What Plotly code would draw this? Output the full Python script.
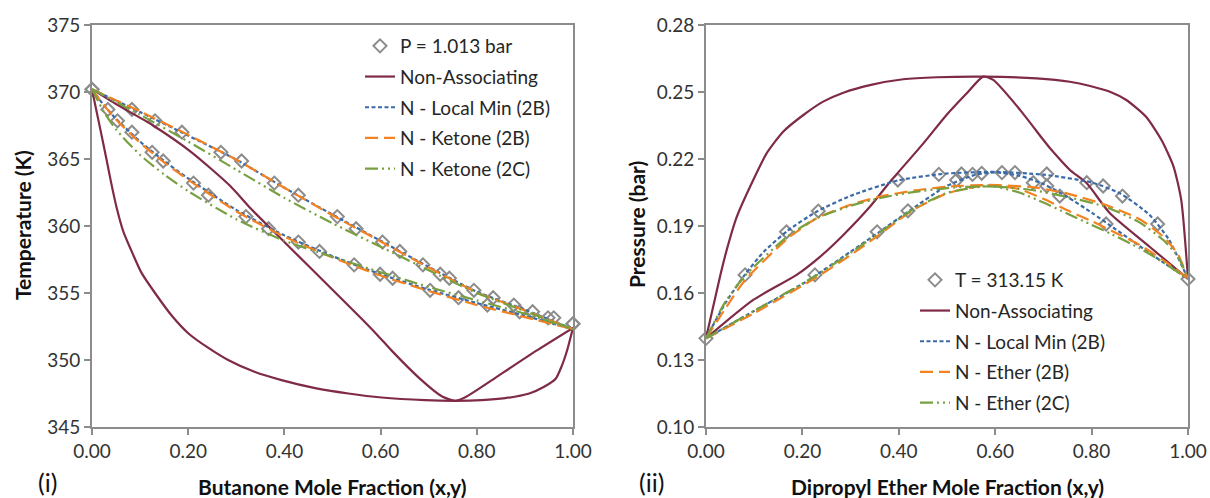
import plotly.graph_objects as go

# ---------------- (i) Butanone system, P = 1.013 bar ----------------
exp_T_i = [370.2, 368.7, 367.85, 367.0, 365.5, 364.85, 363.2, 362.3, 360.7, 359.8, 358.8,
           358.1, 357.1, 356.4, 356.1, 355.2, 354.65, 354.1, 353.6, 353.15, 352.7]
exp_x_i = [0.0, 0.033, 0.053, 0.083, 0.125, 0.148, 0.211, 0.242, 0.320, 0.367, 0.429,
           0.473, 0.545, 0.599, 0.625, 0.703, 0.762, 0.822, 0.889, 0.948, 1.0]
exp_y_i = [0.0, 0.083, 0.131, 0.187, 0.268, 0.311, 0.379, 0.429, 0.510, 0.549, 0.604,
           0.640, 0.688, 0.724, 0.743, 0.794, 0.834, 0.877, 0.916, 0.960, 1.0]

na_bub_x_i = [0, 0.008, 0.018, 0.030, 0.040, 0.051, 0.065, 0.085, 0.103, 0.131, 0.166, 0.200,
              0.242, 0.283, 0.339, 0.394, 0.464, 0.533, 0.602, 0.692, 0.755, 0.81, 0.859,
              0.909, 0.940, 0.964, 0.976, 0.988, 1.0]
na_bub_T_i = [370.2, 368.8, 367.1, 365.0, 363.2, 361.4, 359.6, 357.9, 356.5, 355.0, 353.3, 352.0,
              350.9, 350.0, 349.1, 348.5, 347.9, 347.5, 347.2, 347.0, 346.95, 347.0, 347.15,
              347.5, 348.0, 348.6, 349.5, 350.75, 352.4]
na_dew_x_i = [0, 0.05, 0.127, 0.207, 0.287, 0.33, 0.40, 0.49, 0.56, 0.595, 0.623, 0.685,
              0.727, 0.755, 0.775, 0.80, 0.844, 0.924, 1.0]
na_dew_T_i = [370.2, 369.1, 367.5, 365.5, 363.0, 361.3, 358.8, 355.6, 353.1, 351.8, 350.7, 348.5,
              347.3, 346.95, 347.2, 347.75, 348.8, 350.7, 352.4]

mod_bub_x_i = [0, 0.025, 0.05, 0.1, 0.15, 0.2, 0.3, 0.4, 0.5, 0.6, 0.7, 0.8, 0.9, 1.0]
lm_bub_T_i = [370.2, 369.0, 368.0, 366.3, 364.85, 363.55, 361.2, 359.3, 357.75, 356.4, 355.25, 354.25, 353.3, 352.3]
k2b_bub_T_i = [370.2, 369.0, 367.95, 366.2, 364.75, 363.45, 361.1, 359.2, 357.65, 356.3, 355.15, 354.1, 353.2, 352.3]
k2c_bub_T_i = [370.2, 368.5, 367.2, 365.3, 363.85, 362.6, 360.5, 358.9, 357.7, 356.55, 355.45, 354.45, 353.45, 352.3]

mod_dew_x_i = [0, 0.1, 0.2, 0.3, 0.4, 0.5, 0.6, 0.7, 0.8, 0.9, 1.0]
lm_dew_T_i = [370.2, 368.5, 366.75, 364.95, 362.85, 360.85, 358.9, 356.95, 355.1, 353.75, 352.3]
k2b_dew_T_i = [370.2, 368.55, 366.8, 364.95, 362.85, 360.8, 358.85, 356.9, 355.05, 353.7, 352.3]
k2c_dew_T_i = [370.2, 368.3, 366.3, 364.2, 362.1, 360.2, 358.45, 356.7, 355.0, 353.65, 352.3]

# ---------------- (ii) Dipropyl ether system, T = 313.15 K ----------------
exp_x_ii = [0.0, 0.081, 0.167, 0.233, 0.398, 0.483, 0.553, 0.614, 0.707, 0.790, 0.824, 0.864, 0.937, 1.0]
exp_Px_ii = [0.1397, 0.1681, 0.1874, 0.1967, 0.2106, 0.2131, 0.2131, 0.2139, 0.2133, 0.2094, 0.2079,
             0.2034, 0.1909, 0.1663]
exp_y_ii = [0.226, 0.355, 0.419, 0.520, 0.530, 0.572, 0.641, 0.679, 0.707, 0.734, 0.830]
exp_Py_ii = [0.1681, 0.1874, 0.1968, 0.2106, 0.2133, 0.2136, 0.2139, 0.2094, 0.2079, 0.2034, 0.1909]

na_bub_x_ii = [0, 0.029, 0.043, 0.064, 0.098, 0.126, 0.160, 0.202, 0.243, 0.285, 0.340, 0.409,
               0.479, 0.575, 0.686, 0.755, 0.797, 0.838, 0.872, 0.913, 0.945, 0.970, 0.986, 1.0]
na_bub_P_ii = [0.1397, 0.1673, 0.1793, 0.1942, 0.2106, 0.2226, 0.2322, 0.2397, 0.2457, 0.2497, 0.2531,
               0.2557, 0.2566, 0.2569, 0.2561, 0.2546, 0.2527, 0.2501, 0.2464, 0.2389, 0.2285,
               0.2166, 0.2016, 0.1663]
na_dew_x_ii = [0, 0.098, 0.188, 0.237, 0.285, 0.340, 0.382, 0.451, 0.499, 0.541, 0.575, 0.596,
               0.652, 0.700, 0.717, 0.755, 0.790, 0.838, 0.921, 1.0]
na_dew_P_ii = [0.1397, 0.1569, 0.1681, 0.1763, 0.1860, 0.1986, 0.2098, 0.2270, 0.2397, 0.2494, 0.2569,
               0.2554, 0.2419, 0.2285, 0.2240, 0.2151, 0.2091, 0.1957, 0.1806, 0.1663]

lm_bub_x_ii = [0, 0.04, 0.08, 0.12, 0.17, 0.23, 0.3, 0.4, 0.5, 0.6, 0.7, 0.8, 0.86, 0.92, 0.96, 1.0]
lm_bub_P_ii = [0.1397, 0.1554, 0.1680, 0.1785, 0.1880, 0.1965, 0.2035, 0.2105, 0.2135, 0.2142, 0.2130,
               0.2095, 0.2045, 0.1950, 0.1840, 0.1663]
lm_dew_x_ii = [0, 0.1, 0.2, 0.3, 0.36, 0.42, 0.5, 0.56, 0.6, 0.65, 0.7, 0.75, 0.8, 0.85, 0.9, 0.95, 1.0]
lm_dew_P_ii = [0.1397, 0.1520, 0.1640, 0.1785, 0.1874, 0.1965, 0.2080, 0.2130, 0.2140, 0.2125, 0.2088,
               0.2030, 0.1960, 0.1885, 0.1810, 0.1735, 0.1663]

e_bub_x_ii = [0, 0.04, 0.08, 0.17, 0.23, 0.3, 0.36, 0.43, 0.5, 0.59, 0.68, 0.75, 0.83, 0.9, 0.95, 0.98, 1.0]
e2b_bub_P_ii = [0.1397, 0.1530, 0.1655, 0.1845, 0.1935, 0.1995, 0.2031, 0.2058, 0.2076, 0.2084, 0.2073,
                0.2045, 0.1994, 0.1930, 0.1850, 0.1770, 0.1663]
e2c_bub_P_ii = [0.1397, 0.1560, 0.1675, 0.1855, 0.1935, 0.1990, 0.2025, 0.2052, 0.2070, 0.2078, 0.2060,
                0.2030, 0.1985, 0.1915, 0.1835, 0.1760, 0.1663]
e_dew_x_ii = [0, 0.1, 0.226, 0.3, 0.36, 0.43, 0.5, 0.57, 0.6, 0.65, 0.7, 0.75, 0.8, 0.84, 0.9, 0.95, 1.0]
e2b_dew_P_ii = [0.1397, 0.1510, 0.1666, 0.1770, 0.1862, 0.1972, 0.2046, 0.2079, 0.2083, 0.2065, 0.2022,
                0.1970, 0.1922, 0.1880, 0.1815, 0.1745, 0.1663]
e2c_dew_P_ii = [0.1397, 0.1520, 0.1675, 0.1780, 0.1870, 0.1975, 0.2048, 0.2076, 0.2076, 0.2050, 0.2005,
                0.1955, 0.1905, 0.1865, 0.1800, 0.1735, 0.1663]

# ---------------- styling ----------------
FONT = "Lato"
MAROON = "#7F2B45"
BLUE = "#3B6AA8"
ORANGE = "#F58220"
GREEN = "#78A040"
GREY = "#8C8C8C"
AXIS = "#8C8C8C"

STYLES = {
    "na": dict(color=MAROON, width=2.2),
    "lm": dict(color=BLUE, width=2.2, dash="4px,2.5px"),
    "k2b": dict(color=ORANGE, width=2.2, dash="13px,6px"),
    "k2c": dict(color=GREEN, width=2.2, dash="13px,4px,2px,4px,2px,4px"),
}

fig = go.Figure()


def add_pair(xs1, ys1, xs2, ys2, name, style, axes, legend, group):
    xa, ya = axes
    fig.add_trace(go.Scatter(x=xs1, y=ys1, mode="lines", name=name, line=dict(shape="spline", smoothing=0.6, **style),
                             xaxis=xa, yaxis=ya, legend=legend, legendgroup=group, cliponaxis=False))
    fig.add_trace(go.Scatter(x=xs2, y=ys2, mode="lines", name=name, line=dict(shape="spline", smoothing=0.6, **style),
                             xaxis=xa, yaxis=ya, legend=legend, legendgroup=group, showlegend=False,
                             cliponaxis=False))


def add_exp(xs1, ys1, xs2, ys2, name, axes, legend, group):
    xa, ya = axes
    mk = dict(symbol="diamond-open", size=10, color=GREY, line=dict(width=2, color=GREY))
    fig.add_trace(go.Scatter(x=xs1, y=ys1, mode="markers", name=name, marker=mk, xaxis=xa, yaxis=ya,
                             legend=legend, legendgroup=group, cliponaxis=False))
    fig.add_trace(go.Scatter(x=xs2, y=ys2, mode="markers", name=name, marker=mk, xaxis=xa, yaxis=ya,
                             legend=legend, legendgroup=group, showlegend=False, cliponaxis=False))


# chart (i)
A1 = ("x", "y")
add_exp(exp_x_i, exp_T_i, exp_y_i, exp_T_i, "P = 1.013 bar", A1, "legend", "e1")
add_pair(na_bub_x_i, na_bub_T_i, na_dew_x_i, na_dew_T_i, "Non-Associating", STYLES["na"], A1, "legend", "n1")
add_pair(mod_bub_x_i, lm_bub_T_i, mod_dew_x_i, lm_dew_T_i, "N - Local Min (2B)", STYLES["lm"], A1, "legend", "l1")
add_pair(mod_bub_x_i, k2b_bub_T_i, mod_dew_x_i, k2b_dew_T_i, "N - Ketone (2B)", STYLES["k2b"], A1, "legend", "b1")
add_pair(mod_bub_x_i, k2c_bub_T_i, mod_dew_x_i, k2c_dew_T_i, "N - Ketone (2C)", STYLES["k2c"], A1, "legend", "c1")

# chart (ii)
A2 = ("x2", "y2")
add_exp(exp_x_ii, exp_Px_ii, exp_y_ii, exp_Py_ii, "T = 313.15 K", A2, "legend2", "e2")
add_pair(na_bub_x_ii, na_bub_P_ii, na_dew_x_ii, na_dew_P_ii, "Non-Associating", STYLES["na"], A2, "legend2", "n2")
add_pair(lm_bub_x_ii, lm_bub_P_ii, lm_dew_x_ii, lm_dew_P_ii, "N - Local Min (2B)", STYLES["lm"], A2, "legend2", "l2")
add_pair(e_bub_x_ii, e2b_bub_P_ii, e_dew_x_ii, e2b_dew_P_ii, "N - Ether (2B)", STYLES["k2b"], A2, "legend2", "b2")
add_pair(e_bub_x_ii, e2c_bub_P_ii, e_dew_x_ii, e2c_dew_P_ii, "N - Ether (2C)", STYLES["k2c"], A2, "legend2", "c2")

W, H = 1210, 498
ydom = [1 - 427 / H, 1 - 25 / H]

axis_common = dict(showline=True, linecolor=AXIS, linewidth=2, mirror=True, ticks="outside",
                   ticklen=6, tickwidth=1.5, tickcolor=AXIS, showgrid=False, zeroline=False,
                   automargin=False,
                   tickfont=dict(family=FONT, size=19, color="#333333"))

legend_common = dict(bgcolor="rgba(0,0,0,0)", font=dict(family=FONT, size=19, color="#262626"),
                     traceorder="grouped", tracegroupgap=3, xanchor="left", yanchor="top",
                     itemwidth=30)


def label(text, xpx, ypx, angle=0, size=19):
    return dict(text=text, x=xpx / W, y=1 - ypx / H, xref="paper", yref="paper", showarrow=False,
                textangle=angle, xanchor="center", yanchor="middle",
                font=dict(family=FONT, size=size, color="#111111"))


def panel_tag(text, xpx):
    return dict(text=text, x=xpx / W, y=0, xref="paper", yref="paper", showarrow=False,
                xanchor="center", yanchor="bottom", borderpad=0,
                font=dict(family=FONT, size=25, color="#111111"))


fig.update_layout(
    width=W, height=H,
    margin=dict(l=0, r=0, t=0, b=0),
    paper_bgcolor="white", plot_bgcolor="white",
    xaxis=dict(domain=[92 / W, 573 / W], range=[0, 1], tickvals=[0, 0.2, 0.4, 0.6, 0.8, 1.0],
               tickformat=".2f", anchor="y", **axis_common),
    yaxis=dict(domain=ydom, range=[345, 375], tickvals=[345, 350, 355, 360, 365, 370, 375], anchor="x",
               **axis_common),
    xaxis2=dict(domain=[706 / W, 1188 / W], range=[0, 1], tickvals=[0, 0.2, 0.4, 0.6, 0.8, 1.0],
                tickformat=".2f", anchor="y2", **axis_common),
    yaxis2=dict(domain=ydom, range=[0.10, 0.28], tickvals=[0.10, 0.13, 0.16, 0.19, 0.22, 0.25, 0.28],
                tickformat=".2f", anchor="x2", **axis_common),
    legend=dict(x=360 / W, y=1 - 27 / H, **legend_common),
    legend2=dict(x=915 / W, y=1 - 261 / H, **legend_common),
    annotations=[
        label("<b>Temperature (K)</b>", 22, 225, angle=-90, size=21),
        label("<b>Butanone Mole Fraction (x,y)</b>", 332, 486, size=21),
        label("<b>Pressure (bar)</b>", 636, 225, angle=-90, size=21),
        label("<b>Dipropyl Ether Mole Fraction (x,y)</b>", 947, 486, size=21),
        panel_tag("(i)", 47),
        panel_tag("(ii)", 651),
    ],
)

fig.write_html("out.html", config={"displayModeBar": False},
               post_script="document.body.style.margin='0';document.body.style.padding='0';")
